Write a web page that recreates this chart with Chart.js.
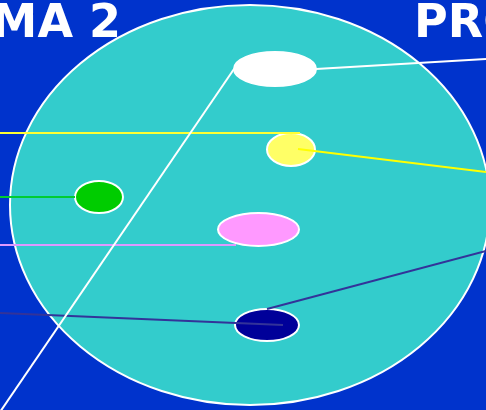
<!DOCTYPE html>
<html lang="en">
<head>
<meta charset="UTF-8">
<title>Diagram</title>
<script src="https://cdn.jsdelivr.net/npm/chart.js"></script>
<style>
    body { margin: 0; background: #0033cc; overflow: hidden; }
    #wrap { width: 486px; height: 410px; position: relative; }
</style>
</head>
<body>
<div id="wrap"><canvas id="diagram"></canvas></div>
<script>
// ellipses, big disc first (centres on a 486 x 410 grid)
var discNames = ["disc", "white", "yellow", "green", "pink", "navy"];
var discX = [250, 275, 291, 99, 258.5, 267];
var discY = [205, 69, 149.5, 197, 229.5, 325];
var discRx = [240, 41, 24, 24, 40.5, 32];
var discRy = [200, 17, 16.5, 16, 16.5, 16];
var discColors = ["#33cccc", "#ffffff", "#ffff66", "#00cc00", "#ff99ff", "#000099"];

// leader lines
var lineFromX = [316, 234, 0, 298, 0, 0, 0, 267];
var lineFromY = [69, 69, 133, 149, 197, 245, 313, 309];
var lineToX = [486, 0, 300, 486, 75, 236, 283, 486];
var lineToY = [59, 412, 133, 172, 197, 245, 325, 251];
var lineColors = ["#ffffff", "#ffffff", "#ffff33", "#ffff00", "#00cc33", "#dd99ff", "#333399", "#333399"];

var titleLeft = "MA 2";
var titleRight = "PRO";

function ellipseImage(rx, ry, fill) {
    var c = document.createElement("canvas");
    c.width = Math.ceil(rx * 2 + 4);
    c.height = Math.ceil(ry * 2 + 4);
    var g = c.getContext("2d");
    g.beginPath();
    g.ellipse(c.width / 2, c.height / 2, rx, ry, 0, 0, Math.PI * 2);
    g.fillStyle = fill;
    g.fill();
    g.lineWidth = 2;
    g.strokeStyle = "#ffffff";
    g.stroke();
    return c;
}

var datasets = [];
for (var i = 0; i < discNames.length; i++) {
    datasets.push({
        type: "scatter",
        label: discNames[i],
        data: [{x: discX[i], y: discY[i]}],
        pointStyle: ellipseImage(discRx[i], discRy[i], discColors[i]),
        order: i === 0 ? 3 : 2,
        clip: false
    });
}
for (var j = 0; j < lineFromX.length; j++) {
    datasets.push({
        type: "line",
        label: "line " + (j + 1),
        data: [{x: lineFromX[j], y: lineFromY[j]}, {x: lineToX[j], y: lineToY[j]}],
        borderColor: lineColors[j],
        borderWidth: 2,
        pointRadius: 0,
        order: 1,
        clip: false
    });
}

var backdrop = {
    id: "backdrop",
    beforeDraw: function(chart) {
        var ctx = chart.ctx;
        ctx.save();
        ctx.fillStyle = "#0033cc";
        ctx.fillRect(0, 0, chart.width, chart.height);
        ctx.restore();
    },
    afterDatasetsDraw: function(chart) {
        var ctx = chart.ctx;
        ctx.save();
        ctx.fillStyle = "#ffffff";
        ctx.font = "bold 46px 'DejaVu Sans'";
        ctx.textBaseline = "alphabetic";
        ctx.textAlign = "right";
        ctx.fillText(titleLeft, 121, 37);
        ctx.textAlign = "left";
        ctx.fillText(titleRight, 414, 37);
        ctx.restore();
    }
};

new Chart(document.getElementById("diagram"), {
    type: "scatter",
    data: { datasets: datasets },
    options: {
        responsive: true,
        maintainAspectRatio: false,
        animation: false,
        events: [],
        layout: { padding: 0, autoPadding: false },
        plugins: { legend: { display: false }, tooltip: { enabled: false } },
        scales: {
            x: { type: "linear", min: 0, max: 486, display: false },
            y: { type: "linear", min: 0, max: 410, reverse: true, display: false }
        }
    },
    plugins: [backdrop]
});
</script>
</body>
</html>
